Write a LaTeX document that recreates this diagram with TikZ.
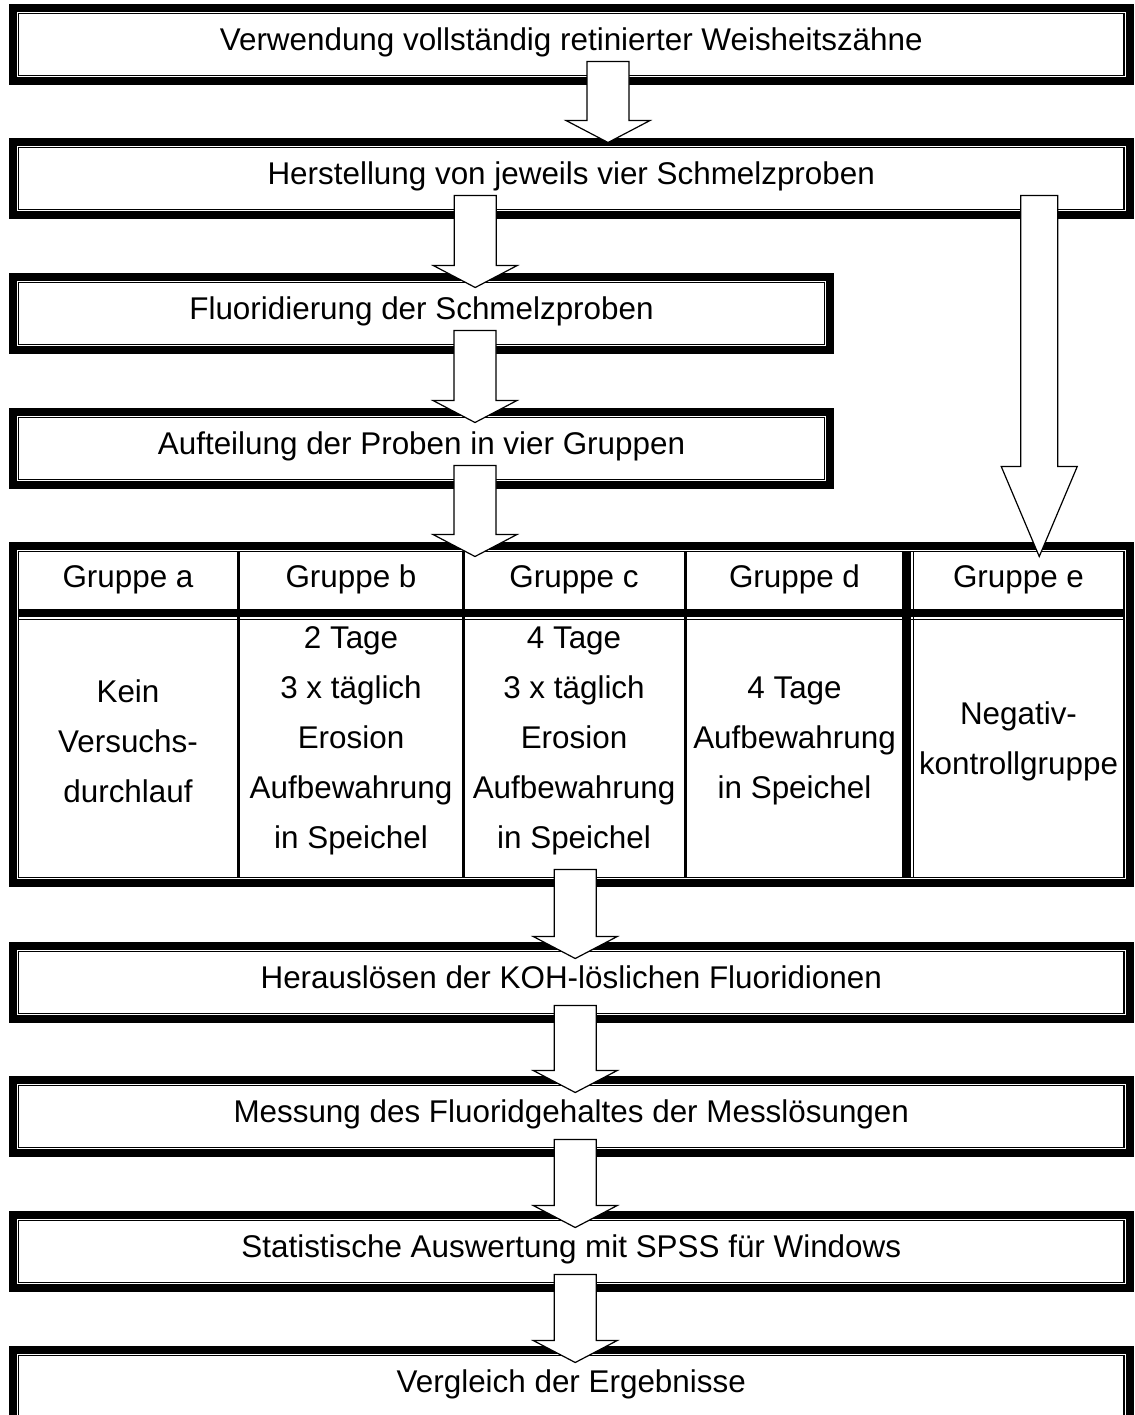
\documentclass[tikz,border=0pt]{standalone}
\usepackage{fontspec}
\setmainfont{Liberation Sans}
\usetikzlibrary{positioning, calc}

\tikzset{
  every node/.style={font=\fontsize{15.7pt}{25pt}\selectfont},
  procbox/.style={draw, line width=0.7pt, minimum width=#1, minimum height=31pt, inner sep=0pt, outer sep=0pt, text height=11pt, text depth=5pt},
  tablebox/.style={draw, line width=0.7pt, minimum width=552.75pt, minimum height=163pt, inner sep=0pt, outer sep=0pt},
  cell/.style={text height=10pt, text depth=6pt},
  outerframe/.style={line width=4pt},
  blockarrow/.style n args={3}{draw, fill=white, line width=0.6pt,
    to path={let \p1=(\tikztostart), \p2=(\tikztotarget) in
      (\x1-#1,\y1+7pt) -- (\x1-#1,\y2-2.5pt+#3) -- (\x1-#2,\y2-2.5pt+#3) -- (\x1,\y2-2.5pt)
      -- (\x1+#2,\y2-2.5pt+#3) -- (\x1+#1,\y2-2.5pt+#3) -- (\x1+#1,\y1+7pt) -- cycle}},
  flowarrow/.style={blockarrow={10.5pt}{21pt}{11pt}},
  longarrow/.style={blockarrow={9.25pt}{19pt}{45pt}},
}

\begin{document}
\begin{tikzpicture}[x=1pt,y=1pt]
  \useasboundingbox (0,0) rectangle (567.5,-707.5);
  % Ablauf
  \node[procbox=552.75pt] (verw) at (285.625,-22.25) {Verwendung vollständig retinierter Weisheitszähne};
  \node[procbox=552.75pt] (herst) at (285.625,-89.25) {Herstellung von jeweils vier Schmelzproben};
  \node[procbox=403pt] (fluor) at (210.75,-156.75) {Fluoridierung der Schmelzproben};
  \node[procbox=403pt] (aufteil) at (210.75,-224.25) {Aufteilung der Proben in vier Gruppen};
  \node[tablebox] (tab) at (285.625,-357.25) {};
  \node[procbox=552.75pt] (herausl) at (285.625,-491.25) {Herauslösen der KOH-löslichen Fluoridionen};
  \node[procbox=552.75pt] (messung) at (285.625,-558.25) {Messung des Fluoridgehaltes der Messlösungen};
  \node[procbox=552.75pt] (statistik) at (285.625,-625.75) {Statistische Auswertung mit SPSS für Windows};
  \node[procbox=552.75pt] (vergleich) at (285.625,-693.25) {Vergleich der Ergebnisse};
  \foreach \n in {verw,herst,fluor,aufteil,tab,herausl,messung,statistik,vergleich}
    \draw[outerframe] ([shift={(-2.75,2.75)}]\n.north west) rectangle ([shift={(2.75,-2.75)}]\n.south east);

  % Tabelle
  \draw[line width=1.5pt] (119.25,-275.75) -- (119.25,-438.75);
  \draw[line width=1.5pt] (231.75,-275.75) -- (231.75,-438.75);
  \draw[line width=1.5pt] (342.5,-275.75) -- (342.5,-438.75);
  \draw[line width=4.5pt] (453.25,-275.75) -- (453.25,-438.75);
  \draw[line width=0.7pt] (456.6,-275.75) -- (456.6,-438.75);
  \draw[line width=4pt] (9.25,-306.5) -- (562,-306.5);
  \draw[line width=0.7pt] (9.25,-309.6) -- (562,-309.6);

  \node[cell] (ga) at (64,-291.5) {Gruppe a};
  \node[cell] (gb) at (175.5,-291.5) {Gruppe b};
  \node[cell] (gc) at (287,-291.5) {Gruppe c};
  \node[cell] (gd) at (397.25,-291.5) {Gruppe d};
  \node[cell] (ge) at (509.25,-291.5) {Gruppe e};

  \node[align=center] (ta) at (64,-370.5) {Kein\\Versuchs-\\durchlauf};
  \node[align=center] (tb) at (175.5,-370.5) {2 Tage\\3 x täglich\\Erosion\\Aufbewahrung\\in Speichel};
  \node[align=center] (tc) at (287,-370.5) {4 Tage\\3 x täglich\\Erosion\\Aufbewahrung\\in Speichel};
  \node[align=center] (td) at (397.25,-370.5) {4 Tage\\Aufbewahrung\\in Speichel};
  \node[align=center] (te) at (509.25,-370.5) {Negativ-\\kontrollgruppe};

  % Pfeile
  \path[flowarrow] ([xshift=18.4pt]verw.south) to ([yshift=5pt]herst.north);
  \path[flowarrow] ([xshift=-48pt]herst.south) to (fluor.north);
  \path[flowarrow] ([xshift=26.75pt]fluor.south) to (aufteil.north);
  \path[flowarrow] ([xshift=26.75pt]aufteil.south) to (tab.north);
  \path[longarrow] ([xshift=234pt]herst.south) to (tab.north);
  \path[flowarrow] ([xshift=2pt,yshift=-3pt]tab.south) to ([yshift=-1pt]herausl.north);
  \path[flowarrow] ([xshift=2pt,yshift=-3pt]herausl.south) to ([yshift=-1pt]messung.north);
  \path[flowarrow] ([xshift=2pt,yshift=-3pt]messung.south) to ([yshift=-1pt]statistik.north);
  \path[flowarrow] ([xshift=2pt,yshift=-3pt]statistik.south) to ([yshift=-1pt]vergleich.north);
\end{tikzpicture}
\end{document}
